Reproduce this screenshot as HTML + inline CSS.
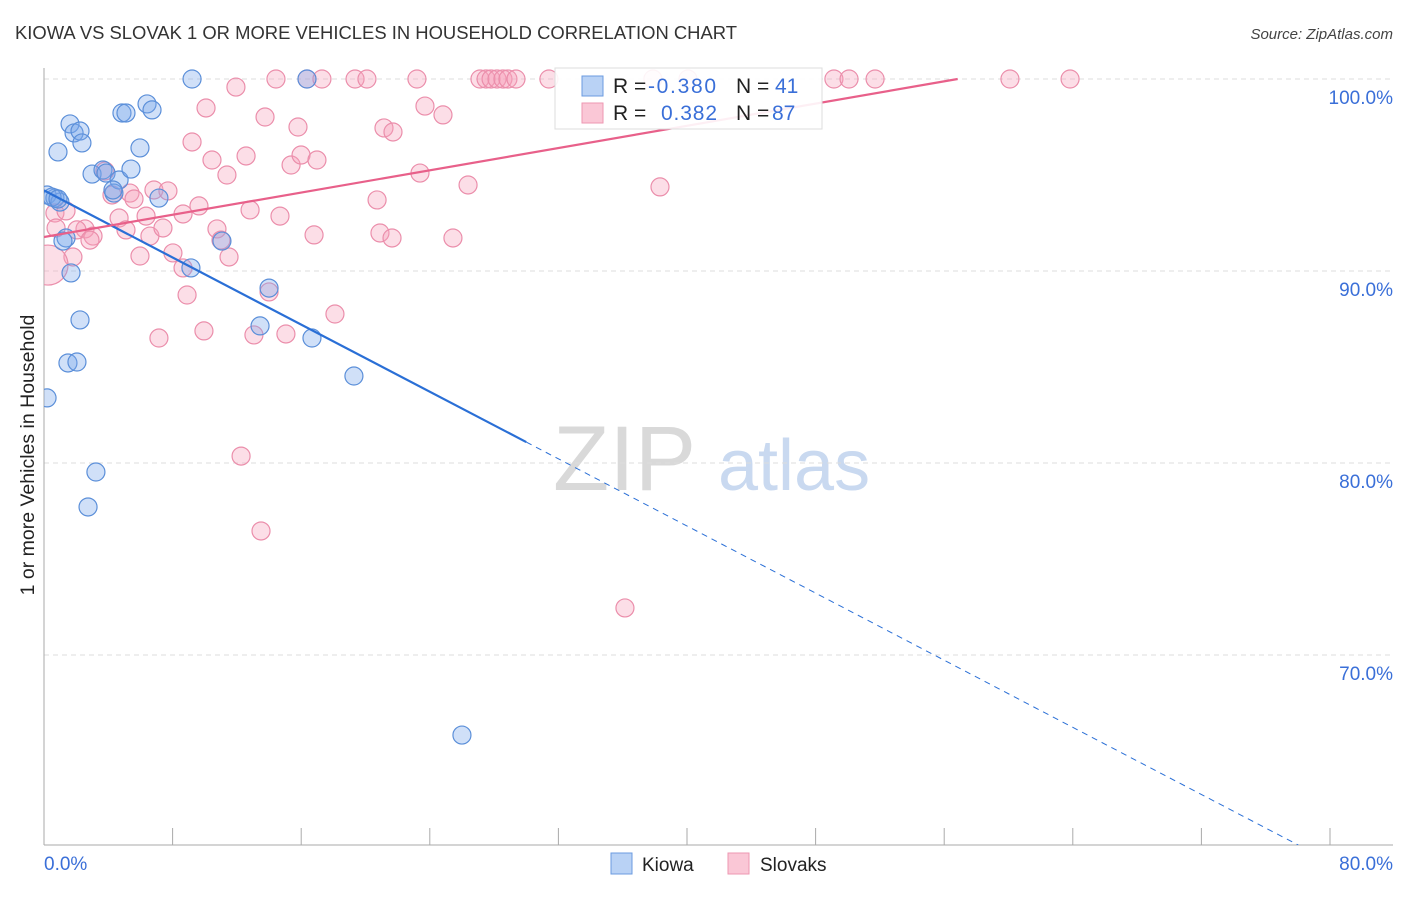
<!DOCTYPE html>
<html><head><meta charset="utf-8"><style>
body{margin:0;background:#fff;font-family:"Liberation Sans",sans-serif;}
svg text{font-family:"Liberation Sans",sans-serif;}
</style></head><body>
<svg id="chart" width="1406" height="892" viewBox="0 0 1406 892" xmlns="http://www.w3.org/2000/svg">
<defs><clipPath id="plotclip"><rect x="44" y="0" width="1362" height="845"/></clipPath></defs>
<text x="15" y="39" font-size="18" fill="#333" textLength="722" lengthAdjust="spacingAndGlyphs">KIOWA VS SLOVAK 1 OR MORE VEHICLES IN HOUSEHOLD CORRELATION CHART</text>
<text x="1393" y="39" font-size="15" fill="#444" text-anchor="end" font-style="italic">Source: ZipAtlas.com</text>
<g>
<text x="553" y="490" font-size="92" fill="#d9d9d9" font-family="Liberation Serif,serif">ZIP</text>
<text x="718" y="490" font-size="72" fill="#c9d9f0">atlas</text>
</g>
<g id="grid"></g>
<g id="axes"></g>
<g id="marks" clip-path="url(#plotclip)"></g>
<g>
<rect x="555" y="68" width="267" height="61" fill="#fff" fill-opacity="0.9" stroke="#ddd"/>
<rect x="582" y="76" width="21" height="20" fill="#b9d2f5" stroke="#6b9be0"/>
<text x="613" y="93" font-size="21" fill="#222">R = </text><text x="648" y="93" font-size="21" fill="#3a6fd8" textLength="68">-0.380</text>
<text x="736" y="93" font-size="21" fill="#222">N = </text><text x="775" y="93" font-size="21" fill="#3a6fd8">41</text>
<rect x="582" y="103" width="21" height="20" fill="#fac7d6" stroke="#ee97b2"/>
<text x="613" y="120" font-size="21" fill="#222">R = </text><text x="661" y="120" font-size="21" fill="#3a6fd8" textLength="56">0.382</text>
<text x="736" y="120" font-size="21" fill="#222">N = </text><text x="772" y="120" font-size="21" fill="#3a6fd8">87</text>
</g>
<g>
<rect x="611" y="853" width="21" height="21" fill="#b9d2f5" stroke="#6b9be0"/>
<text x="642" y="871" font-size="19" fill="#222">Kiowa</text>
<rect x="728" y="853" width="21" height="21" fill="#fac7d6" stroke="#ee97b2"/>
<text x="760" y="871" font-size="19" fill="#222">Slovaks</text>
</g>
<text transform="translate(34,455) rotate(-90)" font-size="19.5" fill="#222" text-anchor="middle">1 or more Vehicles in Household</text>
</svg>
<script>
const yTicks=[100,90,80,70];
const yTickLabels=["100.0%","90.0%","80.0%","70.0%"];
const xTickLabels=["0.0%","80.0%"];
const kiowaX=[9.21,16.36,0.19,0.68,0.99,0.50,0.87,1.62,1.87,2.24,2.36,0.87,4.85,5.10,6.41,6.72,2.99,3.67,3.86,4.67,5.41,5.97,4.35,7.15,1.37,1.18,1.68,9.14,11.07,14.00,13.44,16.67,2.24,1.49,2.05,19.28,0.19,3.23,2.74,26.00,4.29];
const kiowaY=[100,100,93.96,93.80,93.59,93.85,93.75,97.66,97.19,97.29,96.67,96.20,98.23,98.23,98.70,98.39,95.05,95.26,95.10,94.74,95.31,96.41,94.06,93.80,91.72,91.56,89.90,90.16,91.56,89.11,87.14,86.51,87.45,85.21,85.26,84.53,83.39,79.53,77.71,65.83,94.22];
const slovakX=[14.43,16.36,17.29,19.35,20.09,23.20,27.12,27.50,27.81,28.18,28.55,28.86,29.36,31.41,37.88,40.06,49.14,50.08,51.70,60.09,63.83,11.94,10.08,13.75,15.80,21.15,21.71,23.70,24.82,9.21,10.45,12.57,11.38,15.37,15.99,16.98,23.39,26.38,38.32,20.72,9.64,12.82,14.68,8.65,6.84,7.71,5.35,4.23,3.79,5.60,4.67,6.35,0.68,1.37,2.55,3.05,2.05,2.86,5.10,6.59,7.40,10.76,16.80,20.90,21.65,25.44,5.97,8.02,11.51,8.65,1.80,0.25,0.75,8.90,7.15,9.95,13.06,15.05,14.00,18.10,12.26,13.50,36.14,11.01];
const slovakY=[100,100,100,100,100,100,100,100,100,100,100,100,100,100,100,100,100,100,100,100,100,99.58,98.49,98.02,97.50,97.45,97.24,98.59,98.13,96.72,95.78,95.99,95.00,95.52,96.04,95.78,95.10,94.48,94.38,93.70,93.39,93.18,92.86,92.97,94.22,94.17,94.06,93.96,95.21,93.75,92.76,92.86,93.02,93.13,92.19,91.82,92.14,91.61,92.14,91.82,92.24,92.19,91.88,91.98,91.72,91.72,90.78,90.94,90.73,90.16,90.73,90.31,92.24,88.75,86.51,86.88,86.67,86.72,88.91,87.76,80.36,76.46,72.45,91.61];
const slovakSize=[];slovakSize[71]=20;
const kiowaTrend=[94.2,-0.437];
const slovakTrend=[91.77,0.1448];

const NS="http://www.w3.org/2000/svg";
const X0=44,X1=1330,Y0=79,YTOP=100,PXPER=19.2;
function sx(v){return X0+(X1-X0)*v/80;}
function sy(v){return Y0+(YTOP-v)*PXPER;}
function mk(tag,attrs,parent){const e=document.createElementNS(NS,tag);for(const k in attrs)e.setAttribute(k,attrs[k]);parent.appendChild(e);return e;}
const grid=document.getElementById('grid'),axes=document.getElementById('axes'),marks=document.getElementById('marks');
yTicks.forEach((t,i)=>{
  const l=mk('line',{x1:X0,x2:1393,y1:sy(t),y2:sy(t),stroke:'#ddd','stroke-dasharray':'5,4'},grid);
  
  
  const tx=mk('text',{x:1393,y:sy(t)+25,'font-size':19,fill:'#3a6fd8','text-anchor':'end'},axes);
  tx.textContent=yTickLabels[i];
  
  
});
const ya=mk('line',{x1:X0,x2:X0,y1:68,y2:845,stroke:'#aaa'},axes);


const xa=mk('line',{x1:X0,x2:1393,y1:845,y2:845,stroke:'#aaa'},axes);


for(let i=0;i<=10;i++){
  const t=mk('line',{x1:sx(i*8),x2:sx(i*8),y1:828,y2:845,stroke:'#aaa'},axes);
  
  
}
[[0,X0,'start'],[80,1393,'end']].forEach((d,i)=>{
  const t=mk('text',{x:d[1],y:870,'font-size':19,fill:'#3a6fd8','text-anchor':d[2]},axes);
  t.textContent=xTickLabels[i];
  
  
});
function dots(xs,ys,fill,stroke,name,sizes){
  xs.forEach((x,i)=>{
    const c=mk('circle',{cx:sx(x),cy:sy(ys[i]),r:(sizes&&sizes[i])||9,fill:fill,stroke:stroke,'stroke-width':1.2},marks);
    
    
  });
}
dots(slovakX,slovakY,'rgba(245,160,185,0.35)','#eb8eab','slovak-point',slovakSize);
dots(kiowaX,kiowaY,'rgba(120,165,235,0.35)','#5b8fd9','kiowa-point');
const bEnd=(kiowaTrend[0]-60.1)/(-kiowaTrend[1]);
const b1=mk('line',{x1:sx(0),y1:sy(kiowaTrend[0]),x2:sx(30),y2:sy(kiowaTrend[0]+kiowaTrend[1]*30),stroke:'#2a6fd6','stroke-width':2.2},marks);


const b2=mk('line',{x1:sx(30),y1:sy(kiowaTrend[0]+kiowaTrend[1]*30),x2:sx(bEnd),y2:sy(kiowaTrend[0]+kiowaTrend[1]*bEnd),stroke:'#2a6fd6','stroke-width':1,'stroke-dasharray':'6,5'},marks);


const pEnd=(100-slovakTrend[0])/slovakTrend[1];
const p1=mk('line',{x1:sx(0),y1:sy(slovakTrend[0]),x2:sx(pEnd),y2:sy(100),stroke:'#e8608a','stroke-width':2.2},marks);


</script>
</body></html>
